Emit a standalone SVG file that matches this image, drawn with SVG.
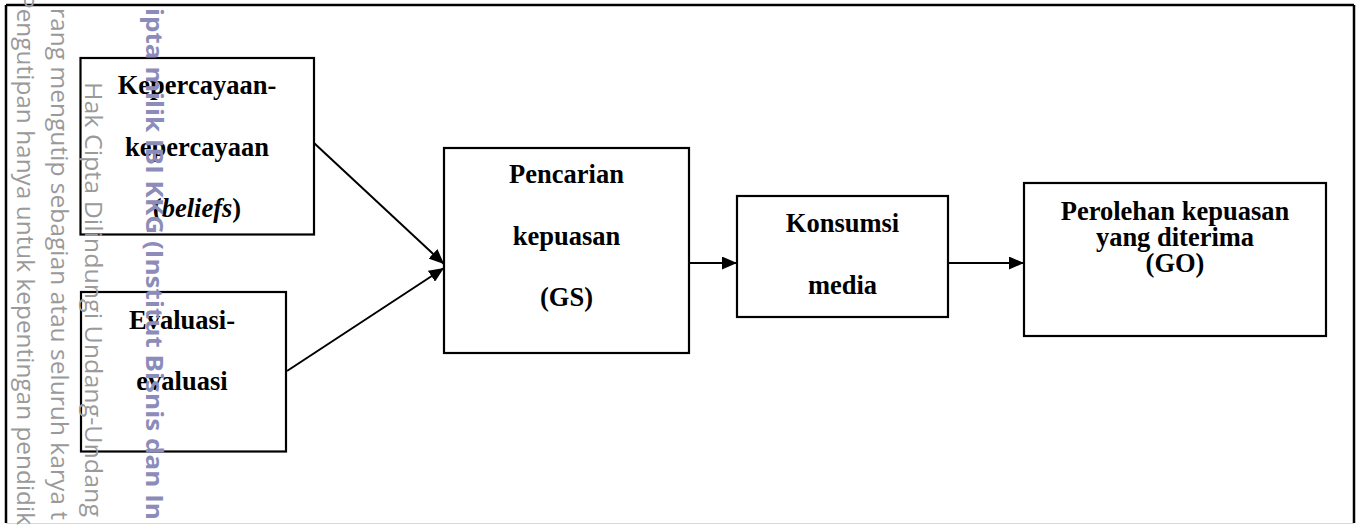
<svg xmlns="http://www.w3.org/2000/svg" width="1361" height="525" viewBox="0 0 1361 525">
<style>
.box{fill:#fff;stroke:#000;stroke-width:2.2}
.t{font-family:"Liberation Serif","Times New Roman",serif;font-weight:bold;font-size:26.5px;fill:#000;text-anchor:middle}
.wm{font-family:"Open Sans","DejaVu Sans",sans-serif;font-size:24px;fill:#9a9a9a}
.wmb{font-family:"Open Sans","DejaVu Sans",sans-serif;font-size:24px;font-weight:bold;fill:#8c8cba}
.conn{stroke:#000;stroke-width:2;fill:none}
</style>
<defs>
<marker id="ah" markerUnits="userSpaceOnUse" markerWidth="15" markerHeight="13" refX="15" refY="6.5" orient="auto">
<path d="M0,0 L15,6.5 L0,13 z" fill="#000"/>
</marker>
</defs>
<rect x="0" y="0" width="1361" height="525" fill="#fff"/>
<g id="frame">
<line x1="6" y1="5" x2="1354" y2="5" stroke="#000" stroke-width="2.5"/>
<line x1="6" y1="5" x2="6" y2="523" stroke="#000" stroke-width="2.5"/>
<line x1="1354" y1="5" x2="1354" y2="523" stroke="#000" stroke-width="2.5"/>
<line x1="6" y1="523.5" x2="1354" y2="523.5" stroke="#d8d8d8" stroke-width="1"/>
</g>
<g id="connectors">
<line class="conn" x1="314" y1="143" x2="444" y2="264" marker-end="url(#ah)"/>
<line class="conn" x1="287" y1="371" x2="444" y2="268" marker-end="url(#ah)"/>
<line class="conn" x1="689" y1="263" x2="737" y2="263" marker-end="url(#ah)"/>
<line class="conn" x1="948" y1="263" x2="1024" y2="263" marker-end="url(#ah)"/>
</g>
<g id="node-beliefs">
<rect class="box" x="80.5" y="58" width="233.5" height="176.5"/>
<text class="t" x="197" y="94">Kepercayaan-</text>
<text class="t" x="197" y="156">kepercayaan</text>
<text class="t" x="197" y="217">(<tspan font-style="italic">beliefs</tspan>)</text>
</g>
<g id="node-evaluasi">
<rect class="box" x="81" y="292" width="205" height="159.5"/>
<text class="t" x="182" y="329">Evaluasi-</text>
<text class="t" x="182" y="390">evaluasi</text>
</g>
<g id="node-gs">
<rect class="box" x="444" y="148" width="245" height="205"/>
<text class="t" x="566.5" y="183">Pencarian</text>
<text class="t" x="566.5" y="245">kepuasan</text>
<text class="t" x="566.5" y="306">(GS)</text>
</g>
<g id="node-media">
<rect class="box" x="737" y="196" width="211" height="121"/>
<text class="t" x="842.5" y="232">Konsumsi</text>
<text class="t" x="842.5" y="294">media</text>
</g>
<g id="node-go">
<rect class="box" x="1024" y="183" width="302" height="153"/>
<text class="t" x="1175" y="220">Perolehan kepuasan</text>
<text class="t" x="1175" y="246">yang diterima</text>
<text class="t" x="1175" y="272">(GO)</text>
</g>
<g id="watermark">
<text class="wm" transform="translate(17,-6) rotate(90)" textLength="531" lengthAdjust="spacingAndGlyphs">Pengutipan hanya untuk kepentingan pendidik</text>
<text class="wm" transform="translate(51,8) rotate(90)" textLength="512" lengthAdjust="spacingAndGlyphs">rang mengutip sebagian atau seluruh karya t</text>
<text class="wm" transform="translate(85,82) rotate(90)" textLength="435" lengthAdjust="spacingAndGlyphs">Hak Cipta Dilindungi Undang-Undang</text>
<text class="wmb" transform="translate(146,8) rotate(90)" textLength="512" lengthAdjust="spacingAndGlyphs">ipta milik IBI KKG (Institut Bisnis dan In</text>
</g>
</svg>
